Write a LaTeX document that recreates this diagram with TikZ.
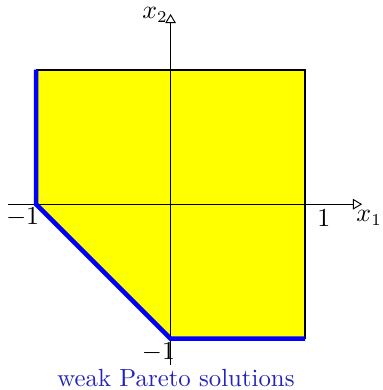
\documentclass[tikz,border=0pt]{standalone}
\usetikzlibrary{arrows.meta}
\definecolor{paretoblue}{RGB}{35,35,185}
\definecolor{regionyellow}{RGB}{255,255,0}
\definecolor{edgeblue}{RGB}{0,0,255}
\tikzset{
  axis/.style={line width=0.4pt,-{Triangle[open,angle=60:4.5pt]}},
  weakedge/.style={edgeblue,line width=1.9pt,line join=miter},
  boundedge/.style={black,line width=0.85pt},
  lbl/.style={inner sep=0pt,font=\fontsize{10.5}{12.5}\selectfont}
}
\begin{document}
\begin{tikzpicture}[x=2cm,y=2cm]
\useasboundingbox (-1.268,-1.381) rectangle (1.572,1.518);
% region corners
\coordinate (A) at (-1,1);
\coordinate (B) at (1,1);
\coordinate (C) at (1,-1);
\coordinate (D) at (0,-1);
\coordinate (E) at (-1,0);
\fill[regionyellow] (A) -- (B) -- (C) -- (D) -- (E) -- cycle;
% axes
\coordinate (xs) at (-1.208,0);
\coordinate (xe) at (1.424,0);
\coordinate (ys) at (0,-1.196);
\coordinate (ye) at (0,1.414);
\draw[axis] (xs) -- (xe);
\draw[axis] (ys) -- (ye);
% boundary
\draw[boundedge] (A) -- (B) -- (C);
\draw[weakedge] (A) -- (E) -- (D) -- (C);
% labels
\node[lbl] (lx1) at (1.476,-0.103) {$x_1$};
\node[lbl] (lx2) at (-0.115,1.405) {$x_2$};
\node[lbl] (lone) at (1.14,-0.10) {$1$};
\node[lbl] (lmone) at (-1.10,-0.10) {$-1$};
\node[lbl] (lmoney) at (-0.09,-1.10) {$-1$};
\node[lbl,text=paretoblue] (title) at (0.04,-1.29) {weak Pareto solutions};
\end{tikzpicture}
\end{document}
